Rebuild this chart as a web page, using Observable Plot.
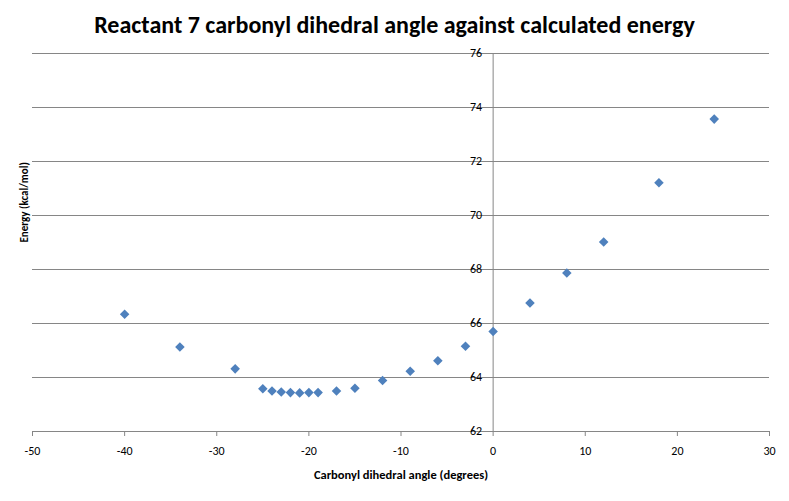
<!DOCTYPE html>
<html>
<head>
<meta charset="utf-8">
<script src="https://cdn.jsdelivr.net/npm/d3@7"></script>
<script src="https://cdn.jsdelivr.net/npm/@observablehq/plot@0.6"></script>
<style>
  html, body { margin: 0; padding: 0; background: #fff; }
  #wrap { width: 789px; height: 501px; position: relative; font-family: Carlito, Calibri, Lato, sans-serif; }
  #title { height: 46px; line-height: 50px; text-align: center; font-weight: bold; font-size: 24px; color: #000; }
</style>
</head>
<body>
<div id="wrap">
  <div id="title">Reactant 7 carbonyl dihedral angle against calculated energy</div>
  <div id="chart"></div>
</div>
<script>
const angles = [-40, -34, -28, -25, -24, -23, -22, -21, -20, -19, -17, -15, -12, -9, -6, -3, 0, 4, 8, 12, 18, 24];
const energies = [66.34, 65.13, 64.32, 63.58, 63.50, 63.46, 63.44, 63.43, 63.44, 63.44, 63.50, 63.60, 63.89, 64.23, 64.62, 65.16, 65.70, 66.76, 67.87, 69.02, 71.21, 73.57];
const xTicks = [-50, -40, -30, -20, -10, 0, 10, 20, 30];
const yTicks = [62, 64, 66, 68, 70, 72, 74, 76];
const xLabel = "Carbonyl dihedral angle (degrees)";
const yLabel = "Energy (kcal/mol)";

const data = angles.map((a, i) => ({angle: a, energy: energies[i]}));
const grid = "#868686";
const font = "Carlito, Calibri, Lato, sans-serif";

const chart = Plot.plot({
  width: 789,
  height: 455,
  marginTop: 7,
  marginBottom: 70,
  marginLeft: 32,
  marginRight: 20,
  style: {fontFamily: font, fontSize: "12px", color: "#000", background: "#fff"},
  x: {domain: [-50, 30]},
  y: {domain: [62, 76], axis: null},
  marks: [
    Plot.ruleY(yTicks, {stroke: grid, strokeWidth: 1}),
    Plot.ruleX([0], {y1: 62, y2: 76, stroke: grid, strokeWidth: 1}),
    Plot.axisX({ticks: xTicks, tickSize: 5, tickPadding: 10, stroke: grid, fill: "#000", label: null, tickFormat: d => String(d)}),
    Plot.text(yTicks, {x: 0, y: d => d, text: d => String(d), textAnchor: "end", dx: -11, fill: "#000"}),
    Plot.text([yLabel], {frameAnchor: "left", rotate: -90, dx: -8, text: d => d, fontWeight: "bold", fontSize: 11, fill: "#000"}),
    Plot.text([xLabel], {frameAnchor: "bottom", dy: 47, text: d => d, fontSize: 12.5, fontWeight: "bold", fill: "#000"}),
    Plot.dot(data, {x: "angle", y: "energy", symbol: "diamond2", r: 4.3, fill: "#4F81BD", stroke: "none"})
  ]
});
document.getElementById("chart").appendChild(chart);
</script>
</body>
</html>
